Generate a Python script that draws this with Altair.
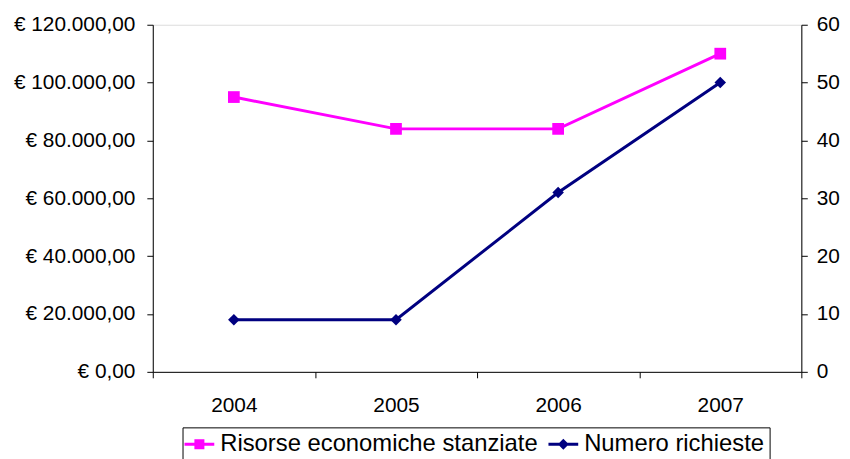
import altair as alt
import pandas as pd

years = ["2004", "2005", "2006", "2007"]
risorse = [95000, 84000, 84000, 110000]
richieste = [9, 9, 31, 50]
series_names = ["Risorse economiche stanziate", "Numero richieste"]
series_colors = ["#ff00ff", "#000080"]
left_ticks = [0, 20000, 40000, 60000, 80000, 100000, 120000]
right_ticks = [0, 10, 20, 30, 40, 50, 60]

rows = []
for y, v in zip(years, risorse):
    rows.append({"year": y, "series": series_names[0], "value": v})
for y, v in zip(years, richieste):
    rows.append({"year": y, "series": series_names[1], "value": v})
df = pd.DataFrame(rows)

FONT = "Liberation Sans"

# legend symbols: short line with the series marker on it
sq_path = "M-1.25,-0.125H1.25V0.125H-1.25Z M-0.42,-0.42H0.42V0.42H-0.42Z"
dm_path = "M-1.25,-0.125H1.25V0.125H-1.25Z M0,-0.46L0.46,0L0,0.46L-0.46,0Z"

legend = alt.Legend(
    title=None,
    orient="none",
    legendX=30,
    legendY=406,
    direction="horizontal",
    strokeColor="black",
    padding=5,
    labelFont=FONT,
    labelFontSize=24,
    labelColor="black",
    labelLimit=0,
    labelOffset=9,
    columnPadding=10,
    symbolSize=576,
    symbolStrokeWidth=0,
    symbolOpacity=1,
)

x_enc = alt.X(
    "year:N",
    sort=years,
    scale=alt.Scale(type="band", paddingInner=0, paddingOuter=0),
    axis=alt.Axis(
        title=None,
        labelAngle=0,
        tickBand="extent",
        labelFont=FONT,
        labelFontSize=21,
        labelColor="black",
        labelPadding=17,
        tickSize=6,
        tickColor="black",
        domainColor="black",
        grid=False,
    ),
)

left_label = "'€ ' + (datum.value == 0 ? '0' : format(datum.value / 1000, 'd') + '.000') + ',00'"

pink = (
    alt.Chart(df)
    .transform_filter(alt.datum.series == series_names[0])
    .mark_line(
        strokeWidth=3,
        color=series_colors[0],
        point=alt.OverlayMarkDef(shape="square", size=140, filled=True, opacity=1, color=series_colors[0]),
    )
    .encode(
        x=x_enc,
        y=alt.Y(
            "value:Q",
            scale=alt.Scale(domain=[0, 120000]),
            axis=alt.Axis(
                title=None,
                orient="left",
                values=left_ticks,
                labelExpr=left_label,
                labelFont=FONT,
                labelFontSize=21,
                labelColor="black",
                labelPadding=12,
                tickSize=6,
                tickColor="black",
                domainColor="black",
                grid=False,
            ),
        ),
    )
)

navy = (
    alt.Chart(df)
    .transform_filter(alt.datum.series == series_names[1])
    .mark_line(
        strokeWidth=3,
        color=series_colors[1],
        point=alt.OverlayMarkDef(shape="diamond", size=135, filled=True, opacity=1, color=series_colors[1]),
    )
    .encode(
        x=x_enc,
        y=alt.Y(
            "value:Q",
            scale=alt.Scale(domain=[0, 60]),
            axis=alt.Axis(
                title=None,
                orient="right",
                values=right_ticks,
                format="d",
                labelFont=FONT,
                labelFontSize=21,
                labelColor="black",
                labelPadding=9,
                tickSize=6,
                tickColor="black",
                domainColor="black",
                grid=False,
            ),
        ),
    )
)

# legend-only layer (no rows survive the filter; the legend is built from the scale domains)
legend_layer = (
    alt.Chart(df)
    .transform_filter(alt.datum.value < 0)
    .mark_point(filled=True, opacity=1)
    .encode(
        color=alt.Color("series:N", scale=alt.Scale(domain=series_names, range=series_colors), legend=legend),
        shape=alt.Shape(
            "series:N",
            scale=alt.Scale(domain=series_names, range=[sq_path, dm_path]),
            legend=legend,
        ),
    )
)

chart = (
    alt.layer(pink, navy, legend_layer)
    .resolve_scale(y="independent")
    .properties(
        width=654,
        height=350,
        autosize=alt.AutoSizeParams(type="none"),
        padding={"left": 146, "top": 15, "right": 41, "bottom": 86},
    )
    .configure_view(stroke="#808080", strokeWidth=1)
    .configure(background="white")
)

chart.save("out.html", embed_options={"renderer": "svg", "actions": False})
